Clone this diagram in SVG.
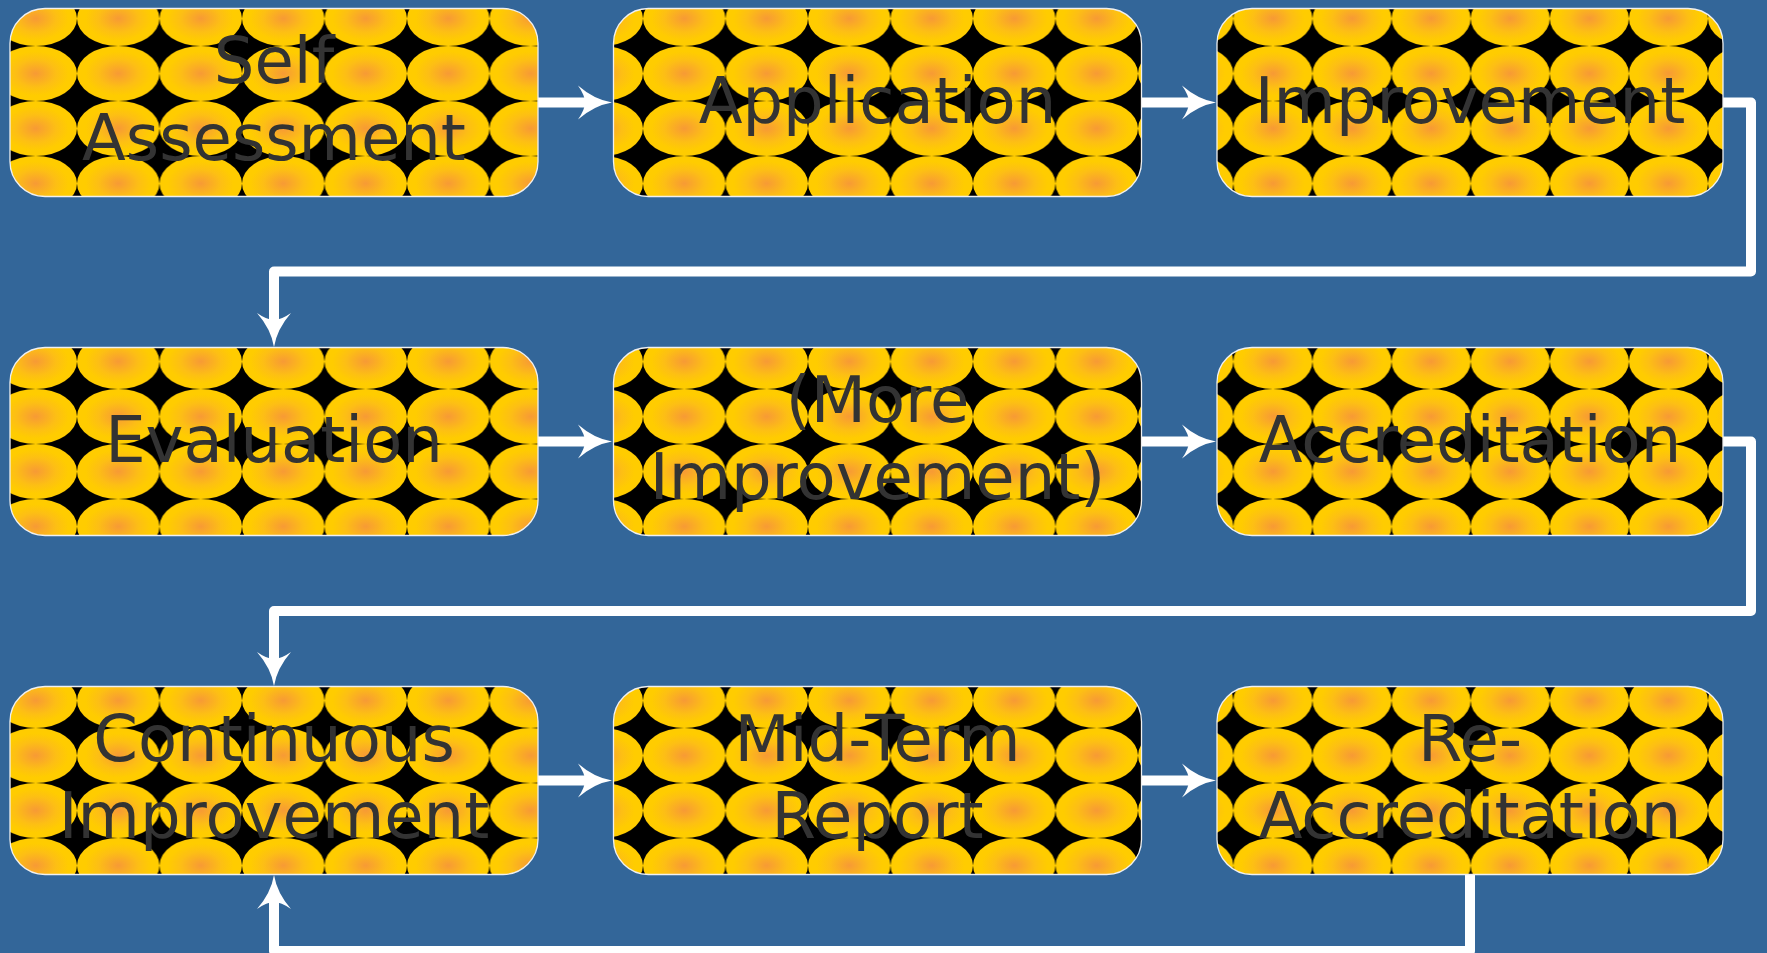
<svg xmlns="http://www.w3.org/2000/svg" xmlns:xlink="http://www.w3.org/1999/xlink" width="1767" height="953" viewBox="0 0 1767 953">
<style>
.node{stroke:#f0f0f0;stroke-width:1.3}
.lbl{font-family:"DejaVu Sans","Liberation Sans",sans-serif;font-size:64px;fill:#333333;text-anchor:middle}
.conn{fill:none;stroke:#ffffff;stroke-width:10;stroke-linecap:round;stroke-linejoin:round}
.arr{marker-end:url(#ah)}
</style>
<defs>
<radialGradient id="rg" cx="0.5" cy="0.5" r="0.5">
<stop offset="0" stop-color="#f79a35"/>
<stop offset="0.5" stop-color="#fdbf14"/>
<stop offset="0.8" stop-color="#ffcc00"/>
<stop offset="1" stop-color="#ffcc00"/>
</radialGradient>
<pattern id="pt" patternUnits="userSpaceOnUse" width="82.5" height="55">
<rect width="82.5" height="55" fill="#000000"/>
<ellipse cx="41.25" cy="27.5" rx="41.25" ry="27.5" fill="url(#rg)"/>
</pattern>
<pattern id="p1" xlink:href="#pt" patternTransform="translate(77,46)"/>
<pattern id="p2" xlink:href="#pt" patternTransform="translate(643,46)"/>
<pattern id="p3" xlink:href="#pt" patternTransform="translate(1708,46) scale(0.9589,1)"/>
<pattern id="p4" xlink:href="#pt" patternTransform="translate(77,389)"/>
<pattern id="p5" xlink:href="#pt" patternTransform="translate(643,389)"/>
<pattern id="p6" xlink:href="#pt" patternTransform="translate(1708,389) scale(0.9589,1)"/>
<pattern id="p7" xlink:href="#pt" patternTransform="translate(77,728)"/>
<pattern id="p8" xlink:href="#pt" patternTransform="translate(643,728)"/>
<pattern id="p9" xlink:href="#pt" patternTransform="translate(1708,728) scale(0.9589,1)"/>
<marker id="ah" markerUnits="userSpaceOnUse" viewBox="0 -18 35 36" markerWidth="35" markerHeight="36" refX="7" refY="0" orient="auto" overflow="visible">
<path d="M34 0 Q16 -3 0 -17 Q7 -7 7 0 Q7 7 0 17 Q16 3 34 0Z" fill="#ffffff"/>
</marker>
</defs>
<rect width="1767" height="953" fill="#336699"/>
<g id="connectors">
<path class="conn arr" d="M538 102.5 H585"/>
<path class="conn arr" d="M1141.5 102.5 H1189"/>
<path class="conn arr" d="M1723 102.5 H1751 V271.5 H274 V320"/>
<path class="conn arr" d="M538 441.5 H585"/>
<path class="conn arr" d="M1141.5 441.5 H1189"/>
<path class="conn arr" d="M1723 441.5 H1751 V611 H274 V659"/>
<path class="conn arr" d="M538 780.5 H585"/>
<path class="conn arr" d="M1141.5 780.5 H1189"/>
<path class="conn arr" d="M1470 875 V951 H274 V902"/>
</g>
<g id="n1"><rect class="node" x="10" y="8.5" width="528" height="188" rx="35" fill="url(#p1)"/><text class="lbl" x="274" y="83">Self</text><text class="lbl" x="274" y="160">Assessment</text></g>
<g id="n2"><rect class="node" x="613.5" y="8.5" width="528" height="188" rx="35" fill="url(#p2)"/><text class="lbl" x="877.5" y="123">Application</text></g>
<g id="n3"><rect class="node" x="1217" y="8.5" width="506" height="188" rx="35" fill="url(#p3)"/><text class="lbl" x="1470" y="123">Improvement</text></g>
<g id="n4"><rect class="node" x="10" y="347.5" width="528" height="188" rx="35" fill="url(#p4)"/><text class="lbl" x="274" y="462">Evaluation</text></g>
<g id="n5"><rect class="node" x="613.5" y="347.5" width="528" height="188" rx="35" fill="url(#p5)"/><text class="lbl" x="877.5" y="422">(More</text><text class="lbl" x="877.5" y="499">Improvement)</text></g>
<g id="n6"><rect class="node" x="1217" y="347.5" width="506" height="188" rx="35" fill="url(#p6)"/><text class="lbl" x="1470" y="462">Accreditation</text></g>
<g id="n7"><rect class="node" x="10" y="686.5" width="528" height="188" rx="35" fill="url(#p7)"/><text class="lbl" x="274" y="761">Continuous</text><text class="lbl" x="274" y="838">Improvement</text></g>
<g id="n8"><rect class="node" x="613.5" y="686.5" width="528" height="188" rx="35" fill="url(#p8)"/><text class="lbl" x="877.5" y="761">Mid-Term</text><text class="lbl" x="877.5" y="838">Report</text></g>
<g id="n9"><rect class="node" x="1217" y="686.5" width="506" height="188" rx="35" fill="url(#p9)"/><text class="lbl" x="1470" y="761">Re-</text><text class="lbl" x="1470" y="838">Accreditation</text></g>
</svg>
